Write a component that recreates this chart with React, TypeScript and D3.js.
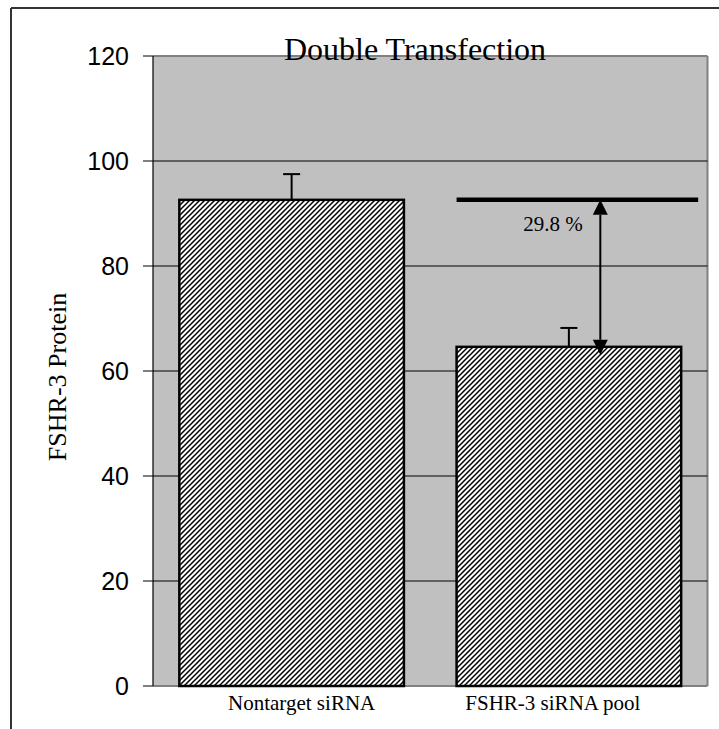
import React from "react";
import * as d3 from "d3";

const categories = ["Nontarget siRNA", "FSHR-3 siRNA pool"];
const values = [92.6, 64.6];
const errors = [4.9, 3.6];
const yTicks = [0, 20, 40, 60, 80, 100, 120];
const gridTicks = [20, 40, 60, 80, 100];
const title = "Double Transfection";
const yLabel = "FSHR-3 Protein";
const reductionLabel = "29.8 %";
const referenceValue = 92.6;

const W = 719;
const H = 729;
const plot = { left: 153, top: 56, right: 707.5, bottom: 686 };
const labelOffsets = [10, -16];

export default function App() {
  const x = d3
    .scaleBand<string>()
    .domain(categories)
    .range([plot.left, plot.right])
    .paddingInner(0.19)
    .paddingOuter(0.095);
  const y = d3.scaleLinear().domain([0, 120]).range([plot.bottom, plot.top]);

  const bw = x.bandwidth();
  const b2 = x(categories[1])!;
  const arrowX = b2 + bw * 0.64;
  const refY = y(referenceValue);
  const bar2Y = y(values[1]);
  const ah = 15;
  const aw = 7.5;

  const serif = "'Liberation Serif', 'Times New Roman', serif";
  const sans = "'Liberation Sans', Arial, sans-serif";

  return (
    <div style={{ position: "absolute", left: 0, top: 0 }}>
      <svg width={W} height={H} style={{ display: "block", background: "#fff" }}>
        <defs>
          <pattern id="hatch" patternUnits="userSpaceOnUse" width={5} height={5}>
            <rect width={5} height={5} fill="#fff" />
            <path d="M-1,1 L1,-1 M0,5 L5,0 M4,6 L6,4" stroke="#000" strokeWidth={1.5} />
          </pattern>
        </defs>
        {/* outer frame */}
        <line x1={11} y1={8} x2={W} y2={8} stroke="#333" strokeWidth={2} />
        <line x1={11} y1={8} x2={11} y2={H} stroke="#333" strokeWidth={2} />

        {/* plot area */}
        <rect
          x={plot.left}
          y={plot.top}
          width={plot.right - plot.left}
          height={plot.bottom - plot.top}
          fill="#c0c0c0"
        />
        <line x1={plot.left} y1={plot.top} x2={plot.right} y2={plot.top} stroke="#808080" strokeWidth={2} />
        <line x1={plot.right} y1={plot.top} x2={plot.right} y2={plot.bottom} stroke="#808080" strokeWidth={2} />
        <line x1={plot.left} y1={plot.bottom} x2={plot.right} y2={plot.bottom} stroke="#808080" strokeWidth={2} />

        {gridTicks.map((t) => (
          <line key={t} x1={plot.left} x2={plot.right} y1={y(t)} y2={y(t)} stroke="#000" strokeWidth={1} />
        ))}

        {/* y axis */}
        <line x1={plot.left} y1={plot.top} x2={plot.left} y2={plot.bottom} stroke="#000" strokeWidth={1.2} />
        {yTicks.map((t) => (
          <g key={t}>
            <line x1={plot.left - 10} x2={plot.left} y1={y(t)} y2={y(t)} stroke="#000" strokeWidth={1} />
            <text
              x={129}
              y={y(t) + 9}
              textAnchor="end"
              fontFamily={sans}
              fontSize={25}
              fill="#000"
            >
              {t}
            </text>
          </g>
        ))}

        {/* bars */}
        {categories.map((c, i) => {
          const bx = x(c)!;
          const cx = bx + bw / 2;
          return (
            <g key={c}>
              <line x1={cx} x2={cx} y1={y(values[i])} y2={y(values[i] + errors[i])} stroke="#000" strokeWidth={2} />
              <line
                x1={cx - 8.5}
                x2={cx + 8.5}
                y1={y(values[i] + errors[i])}
                y2={y(values[i] + errors[i])}
                stroke="#000"
                strokeWidth={2}
              />
              <rect
                x={bx}
                y={y(values[i])}
                width={bw}
                height={y(0) - y(values[i])}
                fill="url(#hatch)"
                stroke="#000"
                strokeWidth={2.5}
              />
              <text
                x={cx + labelOffsets[i]}
                y={710}
                textAnchor="middle"
                fontFamily={serif}
                fontSize={21}
                fill="#000"
              >
                {c}
              </text>
            </g>
          );
        })}

        {/* reference line and arrow */}
        <line x1={b2} x2={b2 + bw + 17} y1={refY} y2={refY} stroke="#000" strokeWidth={4.5} />
        <line x1={arrowX} x2={arrowX} y1={refY + ah} y2={bar2Y + 8 - ah} stroke="#000" strokeWidth={2} />
        <path
          d={`M${arrowX},${refY} L${arrowX - aw},${refY + ah} L${arrowX + aw},${refY + ah} Z`}
          fill="#000"
        />
        <path
          d={`M${arrowX},${bar2Y + 8} L${arrowX - aw},${bar2Y + 8 - ah} L${arrowX + aw},${bar2Y + 8 - ah} Z`}
          fill="#000"
        />
        <text x={553} y={231} textAnchor="middle" fontFamily={serif} fontSize={21} fill="#000">
          {reductionLabel}
        </text>

        {/* title */}
        <text x={415} y={60} textAnchor="middle" fontFamily={serif} fontSize={32} fill="#000">
          {title}
        </text>

        {/* y label */}
        <text
          transform={`translate(66, 377) rotate(-90)`}
          textAnchor="middle"
          fontFamily={serif}
          fontSize={26}
          fill="#000"
        >
          {yLabel}
        </text>
      </svg>
    </div>
  );
}
